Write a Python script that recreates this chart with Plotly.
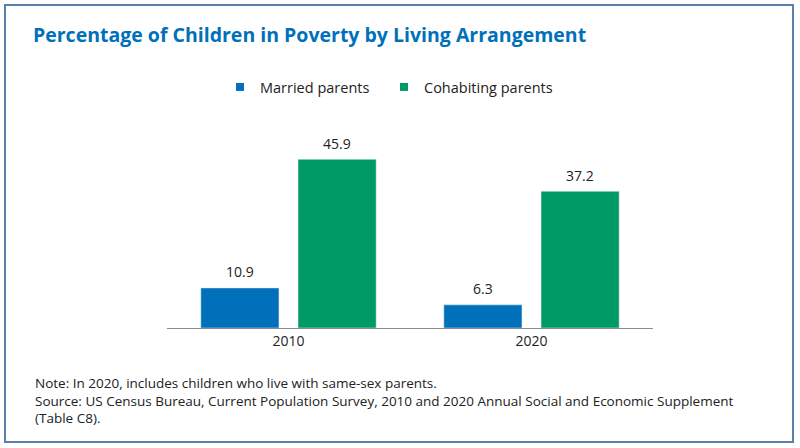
import plotly.graph_objects as go

# data
years = ["2010", "2020"]
married = [10.9, 6.3]
cohabiting = [45.9, 37.2]

series_names = ["Married parents", "Cohabiting parents"]
colors = ["#0070BA", "#009A66"]

title = "Percentage of Children in Poverty by Living Arrangement"
note_lines = [
    "Note: In 2020, includes children who live with same-sex parents.",
    "Source: US Census Bureau, Current Population Survey, 2010 and 2020 "
    "Annual Social and Economic Supplement",
    "(Table C8).",
]

font = "Open Sans"
text_col = "#222222"

W, H = 800, 448
L, R, T, B = 167, 147, 144, 120
plot_w, plot_h = W - L - R, H - T - B
bargap = 0.20

# one legend box per series so each key sits where the reference has it
legend_ids = ["legend", "legend2"]
legend_x = [220, 384]

fig = go.Figure()
n_series = len(series_names)
slot = plot_w / len(years) * (1 - bargap) / n_series
for i, (name, vals, col) in enumerate(zip(series_names, [married, cohabiting], colors)):
    fig.add_trace(go.Bar(x=years, y=vals, name=name, marker_color=col,
                         showlegend=False))
    # small square legend keys
    fig.add_trace(go.Scatter(x=[years[0]], y=[None], mode="markers", name=name,
                             legend=legend_ids[i],
                             marker=dict(symbol="square", size=8, color=col)))
    shift = (i - (n_series - 1) / 2) * slot
    # value labels; x is the category index on the category axis
    for j, v in enumerate(vals):
        fig.add_annotation(x=j, y=v, text=f"{v:.1f}", showarrow=False,
                           xshift=shift, yshift=16, yanchor="middle",
                           font=dict(size=14, color=text_col, family=font))

fig.update_layout(
    width=W, height=H,
    margin=dict(l=L, r=R, t=T, b=B),
    paper_bgcolor="white", plot_bgcolor="white",
    font=dict(family=font, size=14, color=text_col),
    barmode="group", bargap=bargap, bargroupgap=0.196,
    title=dict(text="<b>" + title + "</b>", x=33 / W, xref="container",
               xanchor="left", y=1 - 35 / H, yref="container", yanchor="middle",
               font=dict(size=19.5, color="#0070BA", family=font)),
    showlegend=True,
)
for lid, lx in zip(legend_ids, legend_x):
    fig.update_layout({lid: dict(orientation="h", xref="container", yref="container",
                                 x=lx / W, y=1 - 87 / H, xanchor="left",
                                 yanchor="middle",
                                 font=dict(size=14.5, color=text_col))})

fig.update_xaxes(type="category", categoryorder="array", categoryarray=years,
                 range=[-0.5, len(years) - 0.5],
                 showline=True, linecolor="#8c8c8c", linewidth=1, ticks="",
                 tickfont=dict(size=14), showgrid=False)
fig.update_yaxes(visible=False, range=[0, 50.07], showgrid=False, zeroline=False)

fig.add_annotation(text="<br>".join(note_lines), xref="paper", yref="paper",
                   x=(33 - L) / plot_w, y=(H - B - 400.5) / plot_h,
                   xanchor="left", yanchor="middle", align="left", showarrow=False,
                   font=dict(size=13.5, color=text_col))

# frame round the whole graphic
fig.add_shape(type="rect", xref="paper", yref="paper",
              x0=(5 - L) / plot_w, x1=(793 - L) / plot_w,
              y0=(H - B - 442) / plot_h, y1=(H - B - 5) / plot_h,
              line=dict(color="#5a80ab", width=2), layer="below")

fig.write_html("out.html", config={"displayModeBar": False},
               post_script="document.body.style.margin='0';")
